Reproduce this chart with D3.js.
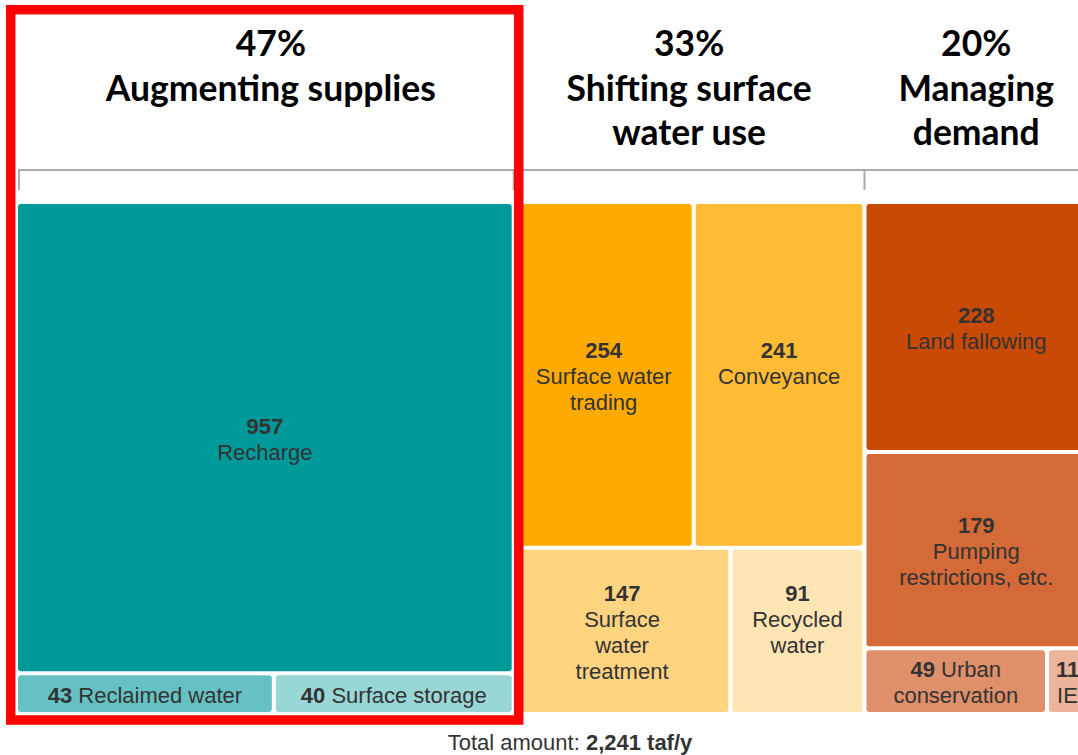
<!DOCTYPE html>
<html>
<head>
<meta charset="utf-8">
<script src="https://cdn.jsdelivr.net/npm/d3@7"></script>
<style>
  html, body { margin: 0; padding: 0; background: #ffffff; }
  svg { display: block; }
</style>
</head>
<body>
<svg id="chart" width="1078" height="755"></svg>
<script>
// ---- data ----
const groupShares = ["47%", "33%", "20%"];
const groupTitles = ["Augmenting supplies", "Shifting surface|water use", "Managing|demand"];

const tileNames  = ["Recharge", "Reclaimed water", "Surface storage",
                    "Surface water trading", "Conveyance", "Surface water treatment", "Recycled water",
                    "Land fallowing", "Pumping restrictions, etc.", "Urban conservation", "IE"];
const tileValues = [957, 43, 40, 254, 241, 147, 91, 228, 179, 49, 11];
const tileGroup  = [0, 0, 0, 1, 1, 1, 1, 2, 2, 2, 2];
const tileRow    = [0, 1, 1, 0, 0, 1, 1, 0, 1, 2, 2];
// label layout: "{v}" is replaced by the value, "|" breaks lines
const tileLabels = ["{v}|Recharge", "{v} Reclaimed water", "{v} Surface storage",
                    "{v}|Surface water|trading", "{v}|Conveyance", "{v}|Surface|water|treatment", "{v}|Recycled|water",
                    "{v}|Land fallowing", "{v}|Pumping|restrictions, etc.", "{v} Urban|conservation", "{v}|IE"];

const totalAmount = 2241;
const totalUnit = "taf/y";

// ---- style ----
const palette = ["#009999", "#66c2c2", "#99d6d6",
                 "#ffaa00", "#ffbb33", "#ffd480", "#ffe5b3",
                 "#c94a04", "#d46a38", "#df8f69", "#ebb49b"];
const labelFont = "'Liberation Sans', Arial, sans-serif";
const headFont = "Lato, 'Open Sans', sans-serif";
const labelSize = 22;
const lineH = 26;

const svg = d3.select("#chart");
const area = { left: 18, top: 204, width: 1068, height: 508 };

// ---- hierarchy: group -> row -> tile ----
const rootData = {
  children: groupShares.map((s, g) => {
    const rows = [];
    tileValues.forEach((v, i) => {
      if (tileGroup[i] !== g) return;
      const r = tileRow[i];
      if (!rows[r]) rows[r] = { children: [] };
      rows[r].children.push({ idx: i, name: tileNames[i], value: v });
    });
    return { group: g, children: rows };
  })
};

const root = d3.hierarchy(rootData).sum(d => d.value || 0);

d3.treemap()
  .size([area.width, area.height])
  .paddingInner(4)
  .tile((node, x0, y0, x1, y1) => {
    if (node.depth === 1) d3.treemapSlice(node, x0, y0, x1, y1);
    else d3.treemapDice(node, x0, y0, x1, y1);
  })(root);

const plot = svg.append("g").attr("transform", `translate(${area.left},${area.top})`);

const leaves = root.leaves();
const cell = plot.selectAll("g.cell").data(leaves).join("g").attr("class", "cell");

cell.append("rect")
  .attr("x", d => d.x0).attr("y", d => d.y0)
  .attr("width", d => d.x1 - d.x0).attr("height", d => d.y1 - d.y0)
  .attr("rx", 3).attr("ry", 3)
  .attr("fill", d => palette[d.data.idx]);

const fmt = d3.format(",");
const lineCount = d => tileLabels[d.data.idx].split("|").length;

cell.each(function (d) {
  const lines = tileLabels[d.data.idx].split("|");
  // labels that sit side by side in a row share the same first baseline
  const rowLines = d3.max(d.parent.children, lineCount);
  const cx = (d.x0 + d.x1) / 2, cy = (d.y0 + d.y1) / 2;
  const y0 = cy - (rowLines - 1) * lineH / 2 + 9;
  const t = d3.select(this).append("text")
    .attr("text-anchor", "middle")
    .attr("font-family", labelFont)
    .attr("font-size", labelSize)
    .attr("fill", "#333333");
  lines.forEach((ln, k) => {
    const tl = t.append("tspan").attr("x", cx).attr("y", y0 + k * lineH);
    if (ln.includes("{v}")) {
      const rest = ln.replace("{v}", "");
      tl.append("tspan").attr("font-weight", "bold").text(fmt(d.data.value));
      if (rest.length) tl.append("tspan").text(rest);
    } else {
      tl.text(ln);
    }
  });
});

// ---- group bracket ----
const groups = root.children;
const bracketY = 170, tickBottom = 190;
const br = svg.append("g").attr("transform", `translate(${area.left},0)`)
  .attr("stroke", "#ababab").attr("stroke-width", 2).attr("fill", "none");
br.append("line")
  .attr("x1", groups[0].x0).attr("x2", groups[groups.length - 1].x1)
  .attr("y1", bracketY).attr("y2", bracketY);
const tickXs = groups.map((g, i) => i === 0 ? g.x0 + 1 : (groups[i - 1].x1 + g.x0) / 2)
  .concat([groups[groups.length - 1].x1 - 1]);
br.selectAll("line.tick").data(tickXs).join("line").attr("class", "tick")
  .attr("x1", d => d).attr("x2", d => d)
  .attr("y1", bracketY).attr("y2", tickBottom);

// ---- group headers ----
const head = svg.append("g").attr("transform", `translate(${area.left},0)`);
groups.forEach((g, i) => {
  const cx = (g.x0 + g.x1) / 2 + (i === 0 ? 6 : 0);
  const lines = [groupShares[i]].concat(groupTitles[i].split("|"));
  const t = head.append("text")
    .attr("text-anchor", "middle")
    .attr("font-family", headFont)
    .attr("font-weight", 700)
    .attr("font-size", 35.5)
    .attr("fill", "#000000");
  lines.forEach((ln, k) => {
    t.append("tspan").attr("x", cx).attr("y", 56 + k * 44.5).text(ln);
  });
});

// ---- highlight frame around the first group ----
const g0 = groups[0];
svg.append("rect")
  .attr("x", area.left + g0.x0 - 7.3)
  .attr("y", 9.7)
  .attr("width", (g0.x1 - g0.x0) + 14.3)
  .attr("height", area.top + g0.y1 + 8 - 9.7)
  .attr("fill", "none")
  .attr("stroke", "#ff0000")
  .attr("stroke-width", 9.5);

// ---- total ----
const tot = svg.append("text")
  .attr("x", 570).attr("y", 750)
  .attr("text-anchor", "middle")
  .attr("font-family", labelFont)
  .attr("font-size", labelSize)
  .attr("fill", "#333333");
tot.append("tspan").text("Total amount: ");
tot.append("tspan").attr("font-weight", "bold").text(fmt(totalAmount) + " " + totalUnit);
</script>
</body>
</html>
